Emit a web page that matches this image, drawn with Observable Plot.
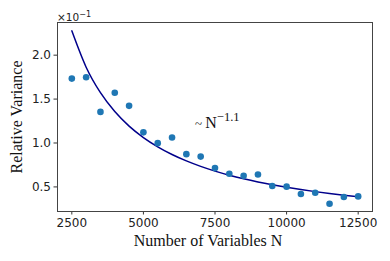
<!DOCTYPE html>
<html>
<head>
<meta charset="utf-8">
<script src="https://cdn.jsdelivr.net/npm/d3@7"></script>
<script src="https://cdn.jsdelivr.net/npm/@observablehq/plot@0.6"></script>
<style>
html,body{margin:0;padding:0;background:#fff;}
</style>
</head>
<body>
<div id="chart"></div>
<script>
// Measured points (relative variance, in units of 1e-1)
const nVars = [2500,3000,3500,4000,4500,5000,5500,6000,6500,7000,7500,8000,8500,9000,9500,10000,10500,11000,11500,12000,12500];
const relVar = [1.733,1.748,1.354,1.572,1.423,1.121,0.998,1.063,0.873,0.845,0.714,0.649,0.626,0.641,0.511,0.503,0.419,0.434,0.308,0.385,0.392];
// Fitted ~N^-1.1 curve, read at the same N
const fitVar = [2.277,1.863,1.5725,1.3578,1.1927,1.0622,0.9566,0.8691,0.7960,0.7337,0.6801,0.6335,0.5927,0.5565,0.5244,0.4955,0.4697,0.4463,0.4249,0.4055,0.3878];
const xTicks = [2500,5000,7500,10000,12500];
const yTicks = [0.5,1.0,1.5,2.0];

const pts = nVars.map((n,i)=>({n, v: relVar[i]}));
const fit = nVars.map((n,i)=>({n, v: fitVar[i]}));

const tickFont = "DejaVu Sans, sans-serif";
const serif = "Liberation Serif, Times New Roman, serif";

const plot = Plot.plot({
  width: 390,
  height: 261,
  marginLeft: 57,
  marginRight: 18,
  marginTop: 22,
  marginBottom: 50,
  style: {fontFamily: tickFont, fontSize: "12px", color: "#222", background: "#fff"},
  x: {domain: [2000, 13000], label: null},
  y: {domain: [0.22, 2.372], label: null},
  marks: [
    Plot.axisX({ticks: xTicks, tickFormat: d => String(d), tickSize: 3.5, tickPadding: 3, label: null, stroke: "#333"}),
    Plot.axisY({ticks: yTicks, tickFormat: d3.format(".1f"), tickSize: 3.5, tickPadding: 3, label: null, stroke: "#333"}),
    Plot.line(fit, {x: "n", y: "v", stroke: "#00008b", strokeWidth: 1.5, curve: "monotone-x"}),
    Plot.dot(pts, {x: "n", y: "v", r: 3.3, fill: "#1f77b4", stroke: "none"}),
    Plot.frame({stroke: "#444", strokeWidth: 1})
  ]
});

const svg = d3.select(plot);

// axis labels
svg.append("text")
  .attr("x", 208).attr("y", 246)
  .attr("text-anchor", "middle")
  .style("font-family", serif).style("font-size", "16px").attr("fill", "#111")
  .text("Number of Variables N");
svg.append("text")
  .attr("transform", "translate(22,117) rotate(-90)")
  .attr("text-anchor", "middle")
  .style("font-family", serif).style("font-size", "16px").attr("fill", "#111")
  .text("Relative Variance");

// offset text
const off = svg.append("text")
  .attr("x", 57).attr("y", 20.5)
  .attr("text-anchor", "start")
  .style("font-family", tickFont).style("font-size", "10.5px").attr("fill", "#222");
off.append("tspan").text("×10");
off.append("tspan").attr("dy", -4).style("font-size", "8px").text("−1");

// annotation
const ann = svg.append("text")
  .attr("x", 195).attr("y", 128)
  .attr("text-anchor", "start")
  .style("font-family", serif).style("font-size", "16px").attr("fill", "#111");
ann.append("tspan").style("font-size", "13px").text("~ ");
ann.append("tspan").text("N");
ann.append("tspan").attr("dy", -7).style("font-size", "12.5px").text("−1.1");

document.getElementById("chart").appendChild(plot);
</script>
</body>
</html>
